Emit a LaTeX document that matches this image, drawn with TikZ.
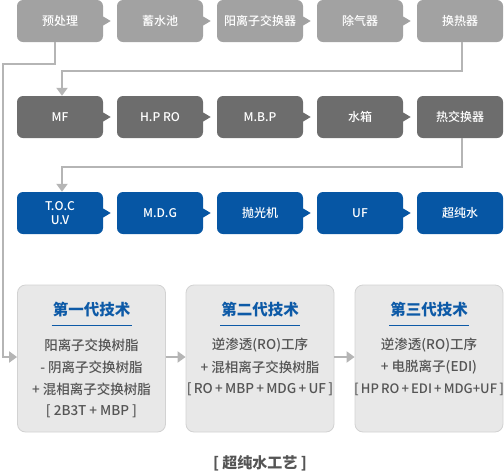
\documentclass[tikz,border=0pt]{standalone}
\usepackage{fontspec}
\setmainfont{Noto Sans CJK SC}
\newfontfamily\medf{Noto Sans CJK SC}[UprightFont={* Medium}]
\usetikzlibrary{arrows.meta}
\definecolor{gA}{HTML}{A2A2A2}
\definecolor{gB}{HTML}{6D6D6D}
\definecolor{bC}{HTML}{0656A4}
\definecolor{conn}{HTML}{B5B5B5}
\definecolor{panel}{HTML}{E8E8E8}
\definecolor{panelb}{HTML}{D2D2D2}
\definecolor{bodyc}{HTML}{555555}
\definecolor{titc}{HTML}{0D5AA7}
\tikzset{
  stepbox/.style={rounded corners=6pt, minimum width=86pt, minimum height=42pt, inner sep=0pt,
    text=white, align=center, font=\medf\fontsize{12}{14.5}\selectfont},
  panelbox/.style={rounded corners=8pt, fill=panel, draw=panelb, line width=0.8pt,
    minimum width=148pt, minimum height=147pt, inner sep=0pt},
  connline/.style={draw=conn, line width=2pt},
  connarrow/.style={connline, -{Triangle[width=11pt,length=8pt]}},
  titletext/.style={text=titc, font=\fontsize{15.5}{18}\selectfont\bfseries},
  bodytext/.style={text=bodyc, font=\medf\fontsize{13.5}{16}\selectfont, inner sep=0pt},
}
\newcommand{\notch}[2]{\fill[#1] ([yshift=4.5pt]#2.east) -- ++(7.5,4.5) -- ++(-7.5,4.5) -- cycle;}
\begin{document}
\begin{tikzpicture}[x=1pt,y=-1pt]
\useasboundingbox (0,0) rectangle (504,472);
\foreach \i/\t [count=\k] in {60/预处理,160/蓄水池,260/阳离子交换器,360/除气器,460/换热器}{
  \node[stepbox, fill=gA] (p\k) at (\i,21) {\t};
}
\foreach \i/\t [count=\k] in {60/MF,160/H.P RO,260/M.B.P,360/水箱,460/热交换器}{
  \node[stepbox, fill=gB] (m\k) at (\i,117) {\t};
}
\foreach \i/\t [count=\k] in {60/{T.O.C\\U.V},160/M.D.G,260/抛光机,360/UF,460/超纯水}{
  \node[stepbox, fill=bC] (t\k) at (\i,213) {\t};
}
\notch{gA}{p1}\notch{gA}{p2}\notch{gA}{p3}\notch{gA}{p4}
\notch{gB}{m1}\notch{gB}{m2}\notch{gB}{m3}\notch{gB}{m4}
\notch{bC}{t1}\notch{bC}{t2}\notch{bC}{t3}\notch{bC}{t4}
\node[panelbox] (g1) at (91.5,358.5) {};
\node[panelbox] (g2) at (260,358.5) {};
\node[panelbox] (g3) at (429,358.5) {};
\coordinate (c1) at (2.5,63.5);
\draw[connarrow] ([xshift=-5pt]p1.south) |- (c1) |- ([yshift=1.5pt]g1.west);
\draw[connarrow] ([xshift=2pt]p5.south) -- ++(0,28.5) -| ([xshift=2pt]m1.north);
\draw[connarrow] ([xshift=2pt]m5.south) -- ++(0,28.5) -| ([xshift=2pt]t1.north);
\draw[connarrow] ([yshift=1.5pt]g1.east) -- ([yshift=1.5pt]g2.west);
\draw[connarrow] ([yshift=1.5pt]g2.east) -- ([yshift=1.5pt]g3.west);
\foreach \g/\t in {g1/第一代技术,g2/第二代技术,g3/第三代技术}{
  \node[titletext] (\g t) at ([yshift=48.5pt]\g.center) {\t};
  \draw[titc, line width=0.8pt] ([xshift=-40pt,yshift=33.5pt]\g.center) -- ([xshift=40pt,yshift=33.5pt]\g.center);
}
\node[bodytext] (a1) at (91.5,345) {阳离子交换树脂};
\node[bodytext] (a2) at (91.5,367) {- 阴离子交换树脂};
\node[bodytext] (a3) at (91.5,389) {+ 混相离子交换树脂};
\node[bodytext] (a4) at (91.5,411) {[ 2B3T + MBP ]};
\node[bodytext] (b1) at (260,345) {逆渗透(RO)工序};
\node[bodytext] (b2) at (260,367) {+ 混相离子交换树脂};
\node[bodytext] (b3) at (260,389) {[\,RO\,+\,MBP\,+\,MDG\,+\,UF\,]};
\node[bodytext] (d1) at (429,345) {逆渗透(RO)工序};
\node[bodytext] (d2) at (429,367) {+ 电脱离子(EDI)};
\node[bodytext, font=\medf\fontsize{13}{16}\selectfont] (d3) at (429,389) {[\,HP\,RO\,+\,EDI\,+\,MDG+UF\,]};
\node[text=bodyc, font=\fontsize{15}{18}\selectfont\bfseries] (cap) at (260,463) {[ 超纯水工艺 ]};
\end{tikzpicture}
\end{document}
